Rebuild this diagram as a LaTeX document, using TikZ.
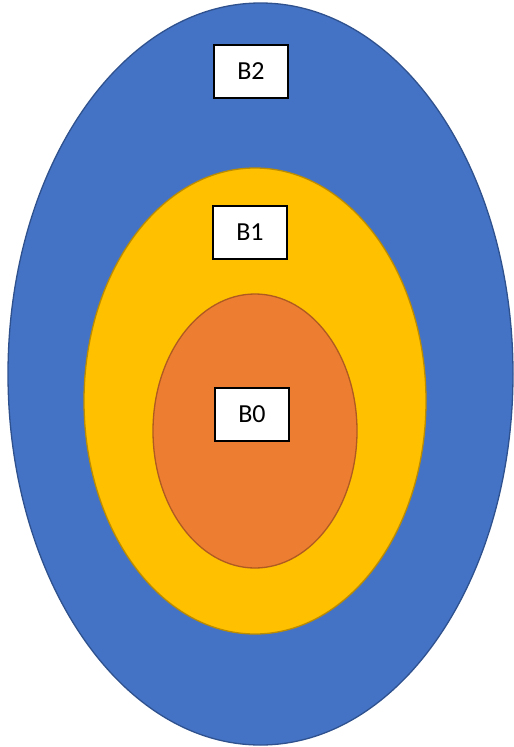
\documentclass[tikz,border=0pt]{standalone}
\usepackage{fontspec}
\setmainfont{Carlito}
\usepackage{xcolor}
\usepackage{tikz}
\usetikzlibrary{shapes.geometric}

\definecolor{blueset}{HTML}{4472C4}
\definecolor{blueedge}{HTML}{2F528F}
\definecolor{yellowset}{HTML}{FFC000}
\definecolor{yellowedge}{HTML}{BC8C00}
\definecolor{orangeset}{HTML}{ED7D31}
\definecolor{orangeedge}{HTML}{AE5A21}

\tikzset{
	setlabel/.style={draw=black, fill=white, line width=1.8pt, minimum width=74pt,
		minimum height=53pt, inner sep=0pt, font=\fontsize{26}{30}\selectfont},
	region/.style={ellipse, line width=1.3pt, inner sep=0pt}
}

\begin{document}
\begin{tikzpicture}[x=1pt, y=-1pt]
			\useasboundingbox (0,0) rectangle (514,747);
			% nested sets, outermost first
			\node(outer)[region, fill=blueset, draw=blueedge,
				minimum width=505pt, minimum height=742pt] at (260.5,374) {};
			\node(middle)[region, fill=yellowset, draw=yellowedge,
				minimum width=342pt, minimum height=466pt] at (255,401) {};
			\node(inner)[region, fill=orangeset, draw=orangeedge,
				minimum width=204pt, minimum height=274pt] at (255,431) {};
			% labels
			\node(btwo)[setlabel] at (251,71.5) {B2};
			\node(bone)[setlabel] at (250,232.5) {B1};
			\node(bzero)[setlabel] at (252,414.5) {B0};
		\end{tikzpicture}
\end{document}
